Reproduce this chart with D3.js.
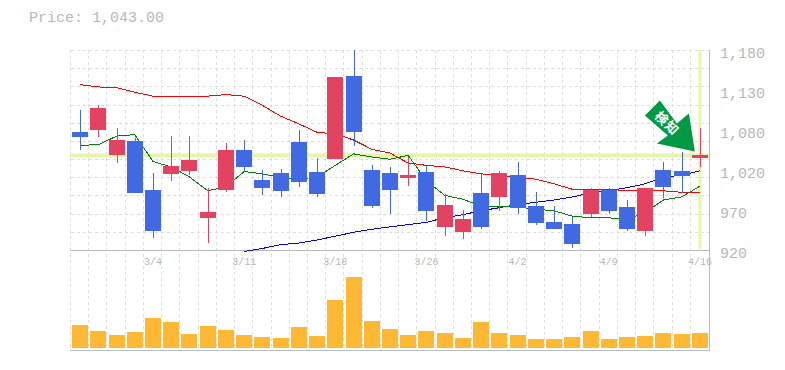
<!DOCTYPE html>
<html>
<head>
<meta charset="utf-8">
<script src="https://cdn.jsdelivr.net/npm/d3@7"></script>
<style>
  body { margin: 0; background: #fff; }
  text { font-family: "Liberation Mono", monospace; fill: #b8b8b8; }
</style>
</head>
<body>
<div class="canvas"></div>
<script>
const dates = ['2/26','2/27','2/28','2/29','3/4','3/5','3/6','3/7','3/8','3/11','3/12','3/13','3/14','3/15','3/18','3/19','3/21','3/22','3/25','3/26','3/27','3/28','3/29','4/1','4/2','4/3','4/4','4/5','4/8','4/9','4/10','4/11','4/12','4/15','4/16'];
const dateTicks = ['3/4','3/11','3/18','3/26','4/2','4/9','4/16'];
const priceTicks = [920, 972, 1024, 1076, 1128, 1180];

const opens  = [1073,1076,1043,1062,998,1019,1023,962,998,1050,1011,1020,1060,1021,1038,1146,1024,1020,1014,1021,950,943,994,989,1017,977,956,954,967,998,976,945,1024,1023,1040];
const closes = [1067,1105,1063,994,945,1029,1037,969,1050,1028,1001,997,1008,993,1145,1073,977,998,1017,971,978,960,950,1020,975,955,947,928,998,971,947,1001,1002,1016,1043];
const highs  = [1102,1108,1079,1066,1020,1068,1068,1001,1059,1063,1024,1025,1076,1040,1145,1180,1030,1028,1041,1029,993,972,1019,1023,1034,995,977,963,1001,1001,985,1001,1034,1047,1079];
const lows   = [1050,1067,1033,994,935,1010,1017,929,995,1021,991,989,1002,989,1038,1055,975,967,1003,958,938,934,947,971,967,952,947,923,963,967,945,938,988,994,1028];
const volumes = [230,170,130,160,300,260,140,220,180,130,110,100,210,120,480,710,270,190,130,170,150,100,260,150,130,90,90,110,170,90,110,120,150,140,150];

const maShort = [1056,1057,1068,1070,1035,1028,1015,997,1002,1022,1019,1014,1012,1015,1030,1045,1041,1038,1043,1010,991,986,977,977,976,973,971,964,962,962,959,969,985,989,1003];
const maMid = [1135,1132,1131,1125,1120,1119,1120,1120,1122,1120,1108,1094,1084,1073,1071,1063,1051,1046,1033,1030,1028,1023,1019,1017,1015,1012,1006,999,999,999,997,997,997,995,995];
const maLong = [null,null,null,null,null,null,null,null,null,918,922,927,929,933,938,943,947,950,953,956,962,966,971,975,979,982,985,989,994,997,1001,1006,1015,1017,1023];

const currentPrice = 1043;

const dims = { width: 785, height: 370, left: 71, right: 709, top: 50, mid: 250, bottom: 350, volBase: 348 };

const svg = d3.select('.canvas')
  .append('svg')
  .attr('width', dims.width)
  .attr('height', dims.height)
  .style('display', 'block');

const x = d3.scaleBand().domain(dates).range([dims.left, dims.right]);
const xc = d => x(d) + x.bandwidth() / 2;
const y = d3.scaleLinear().domain([920, 1180]).range([dims.mid, dims.top]);
const yVol = d3.scaleLinear().domain([0, 1000]).range([dims.volBase, dims.volBase - 100]);

svg.append('defs').append('clipPath').attr('id', 'plot')
  .append('rect')
  .attr('x', dims.left).attr('y', dims.top)
  .attr('width', dims.right - dims.left).attr('height', dims.mid - dims.top);

svg.append('text')
  .attr('x', 29).attr('y', 22)
  .style('font-size', '15px')
  .text('Price: ' + d3.format(',.2f')(currentPrice));

// grid
const grid = svg.append('g')
  .attr('stroke', '#ddd')
  .attr('stroke-dasharray', '3,3')
  .attr('shape-rendering', 'crispEdges');

grid.selectAll('.v')
  .data(dates)
  .enter().append('line')
  .attr('x1', d => Math.round(x(d)) - 0.5)
  .attr('x2', d => Math.round(x(d)) - 0.5)
  .attr('y1', dims.top).attr('y2', dims.bottom);

grid.selectAll('.h')
  .data(d3.range(0, 11))
  .enter().append('line')
  .attr('x1', dims.left).attr('x2', dims.right)
  .attr('y1', i => Math.round(dims.top + i * (dims.mid - dims.top) / 11) + 0.5)
  .attr('y2', i => Math.round(dims.top + i * (dims.mid - dims.top) / 11) + 0.5);

// current price bands
svg.append('line')
  .attr('x1', dims.left - 1).attr('x2', dims.right)
  .attr('y1', y(currentPrice)).attr('y2', y(currentPrice))
  .attr('stroke', '#e6f5a9').attr('stroke-width', 4);

svg.append('line')
  .attr('x1', xc('4/16')).attr('x2', xc('4/16'))
  .attr('y1', dims.top).attr('y2', dims.mid - 1)
  .attr('stroke', '#e6f5a9').attr('stroke-width', 3);

// frame
const frame = svg.append('g').attr('stroke', '#bbb').attr('shape-rendering', 'crispEdges');
frame.append('line').attr('x1', dims.left - 1).attr('x2', dims.right + 1).attr('y1', dims.mid + 0.5).attr('y2', dims.mid + 0.5);
frame.append('line').attr('x1', dims.left - 1).attr('x2', dims.right + 1).attr('y1', dims.bottom + 0.5).attr('y2', dims.bottom + 0.5);
frame.append('line').attr('x1', dims.right + 0.5).attr('x2', dims.right + 0.5).attr('y1', dims.top).attr('y2', dims.bottom + 1);

// axis labels
const yAxis = d3.axisRight(y)
  .tickValues(priceTicks)
  .tickSize(0)
  .tickPadding(11)
  .tickFormat(d => d3.format(',')(Math.round(d / 10) * 10));

svg.append('g')
  .attr('transform', `translate(${dims.right}, 3)`)
  .call(yAxis)
  .call(g => g.select('.domain').remove())
  .selectAll('text')
  .style('font-family', '"Liberation Mono", monospace')
  .style('font-size', '15px');

const xAxis = d3.axisBottom(x)
  .tickValues(dateTicks)
  .tickSize(0)
  .tickPadding(8);

svg.append('g')
  .attr('transform', `translate(0, ${dims.mid})`)
  .call(xAxis)
  .call(g => g.select('.domain').remove())
  .selectAll('text')
  .style('font-family', '"Liberation Mono", monospace')
  .style('font-size', '10px');

// volume
svg.append('g')
  .attr('fill', '#ffb833')
  .selectAll('rect')
  .data(volumes)
  .enter().append('rect')
  .attr('x', (d, i) => Math.round(xc(dates[i])) - 8)
  .attr('width', 16)
  .attr('y', d => yVol(d))
  .attr('height', d => yVol(0) - yVol(d));

// moving averages, candle bodies cover them
const line = d3.line()
  .defined(d => d[1] !== null)
  .x(d => xc(d[0]))
  .y(d => y(d[1]));

const lines = svg.append('g')
  .attr('fill', 'none')
  .attr('stroke-width', 1)
  .attr('shape-rendering', 'crispEdges');

lines.append('path').attr('d', line(d3.zip(dates, maLong))).attr('stroke', '#0000ff');
lines.append('path').attr('d', line(d3.zip(dates, maMid))).attr('stroke', '#ff0000');
lines.append('path').attr('d', line(d3.zip(dates, maShort))).attr('stroke', '#008000');

// candles
const upColour = '#e34360';
const downColour = '#4169e1';
const candles = svg.append('g').attr('clip-path', 'url(#plot)').attr('shape-rendering', 'crispEdges');
const colourOf = i => closes[i] >= opens[i] ? upColour : downColour;

candles.selectAll('.wick')
  .data(dates)
  .enter().append('line')
  .attr('x1', d => Math.round(xc(d)) + 0.5)
  .attr('x2', d => Math.round(xc(d)) + 0.5)
  .attr('y1', (d, i) => y(highs[i]))
  .attr('y2', (d, i) => y(lows[i]))
  .attr('stroke', (d, i) => colourOf(i))
  .attr('stroke-width', 1);

candles.selectAll('.body')
  .data(dates)
  .enter().append('rect')
  .attr('x', d => Math.round(xc(d)) - 8)
  .attr('width', 16)
  .attr('y', (d, i) => y(Math.max(opens[i], closes[i])))
  .attr('height', (d, i) => Math.abs(y(opens[i]) - y(closes[i])))
  .attr('fill', (d, i) => colourOf(i));

// marker arrow pointing at the last session
const marker = svg.append('g')
  .attr('transform', `translate(${xc('4/16') - 5}, ${y(currentPrice) - 4})`);

marker.append('path')
  .attr('d', 'M0,0 L-38,-8 L-27,-16 L-50,-36 L-35,-51 L-18,-28 L-6,-38 Z')
  .attr('fill', '#009944');

marker.append('text')
  .attr('transform', 'translate(-28, -28) rotate(45)')
  .attr('text-anchor', 'middle')
  .attr('dy', 4.5)
  .style('font-family', '"Noto Sans CJK JP", sans-serif')
  .style('font-size', '13px')
  .style('font-weight', 'bold')
  .style('letter-spacing', '1px')
  .style('fill', '#fff')
  .text('検知');
</script>
</body>
</html>
